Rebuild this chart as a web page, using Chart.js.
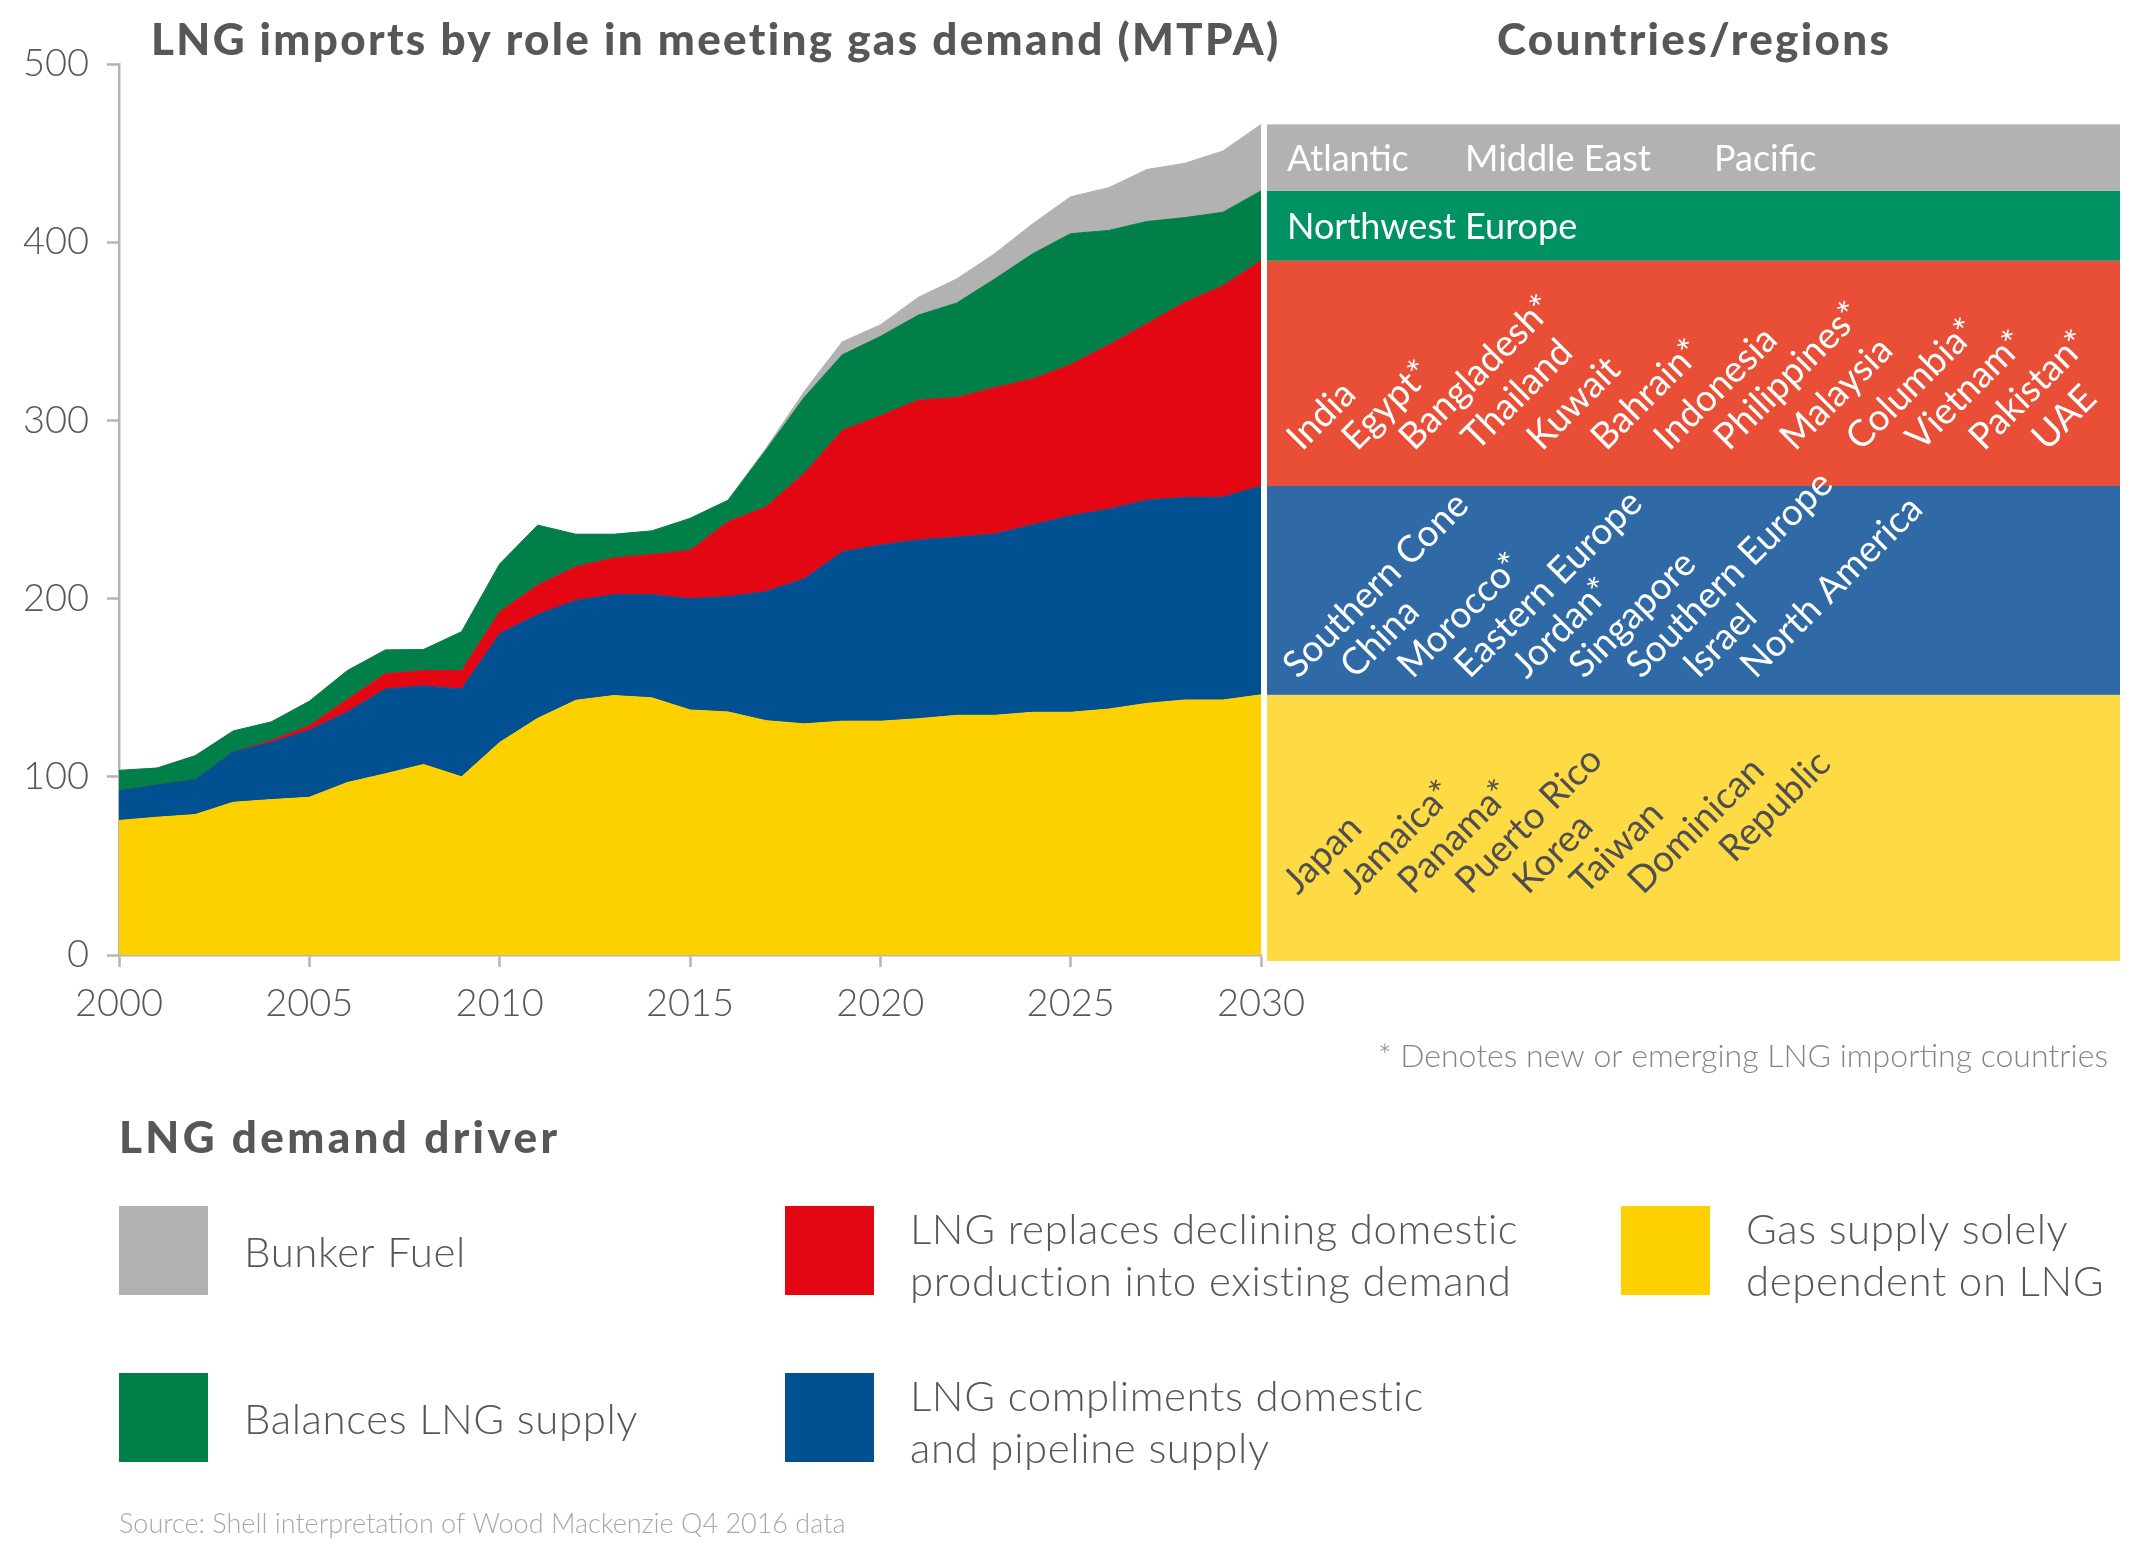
<!DOCTYPE html>
<html>
<head>
<meta charset="utf-8">
<title>LNG imports by role in meeting gas demand</title>
<script src="https://cdn.jsdelivr.net/npm/chart.js@4.4.1/dist/chart.umd.min.js"></script>
<style>
  html, body { margin: 0; padding: 0; background: #fff; }
  canvas { display: block; }
</style>
</head>
<body>
<canvas id="lng" width="2149" height="1543"></canvas>
<script>
// years on the x axis
const years = [2000, 2001, 2002, 2003, 2004, 2005, 2006, 2007, 2008, 2009,
  2010, 2011, 2012, 2013, 2014, 2015, 2016, 2017, 2018, 2019,
  2020, 2021, 2022, 2023, 2024, 2025, 2026, 2027, 2028, 2029, 2030];

// MTPA (bottom to top)
const dependentOnLng = [75.5, 77.3, 78.8, 85.7, 87.2, 88.5, 96.8, 101.7, 106.9, 100.0,
  119.3, 132.8, 142.9, 145.6, 144.3, 137.5, 136.4, 131.5, 129.7, 131.2,
  131.2, 132.6, 134.5, 134.5, 136.2, 136.2, 138.0, 141.2, 143.1, 143.1, 146.0];
const complementsDomestic = [16.6, 18.0, 19.5, 28.2, 32.1, 37.7, 39.6, 47.6, 44.1, 49.3,
  61.0, 58.3, 56.1, 56.6, 57.9, 62.5, 64.7, 72.5, 81.4, 95.0,
  98.9, 100.3, 100.0, 101.7, 105.2, 110.3, 112.2, 114.0, 113.6, 113.8, 117.2];
const replacesDecline = [0, 0, 0, 0, 1.1, 2.5, 7.1, 8.6, 8.6, 10.3,
  12.3, 16.5, 18.9, 20.6, 22.6, 27.0, 42.1, 47.5, 59.3, 68.2,
  72.5, 78.5, 78.4, 82.2, 81.9, 84.9, 92.1, 99.1, 109.6, 118.7, 126.4];
const balancesSupply = [11.5, 9.6, 13.5, 11.8, 10.4, 13.7, 16.1, 13.3, 11.8, 21.8,
  26.8, 33.6, 18.2, 13.3, 13.2, 18.0, 12.0, 32.0, 42.5, 42.4,
  44.5, 47.7, 52.9, 60.9, 70.2, 73.4, 64.3, 57.3, 47.5, 41.2, 39.2];
const bunkerFuel = [0, 0, 0, 0, 0, 0, 0, 0, 0, 0,
  0, 0, 0, 0, 0, 0, 0, 1.0, 3.3, 7.3,
  6.5, 10.0, 13.5, 14.2, 16.8, 20.7, 24.0, 29.2, 30.5, 34.4, 37.3];

const yTicks = [0, 100, 200, 300, 400, 500];
const xTicks = [2000, 2005, 2010, 2015, 2020, 2025, 2030];

// country/region lists shown in the right hand panel
const bunkerRegions = ["Atlantic", "Middle East", "Pacific"];
const balancingRegions = ["Northwest Europe"];
const replacingCountries = ["India", "Egypt*", "Bangladesh*", "Thailand", "Kuwait", "Bahrain*",
  "Indonesia", "Philippines*", "Malaysia", "Columbia*", "Vietnam*", "Pakistan*", "UAE"];
const complementCountries = ["Southern Cone", "China", "Morocco*", "Eastern Europe", "Jordan*",
  "Singapore", "Southern Europe", "Israel", "North America"];
const dependentCountries = ["Japan", "Jamaica*", "Panama*", "Puerto Rico", "Korea", "Taiwan",
  "Dominican\nRepublic"];

const FONT = "Lato, 'Open Sans', sans-serif";
const TEXT = "#575757";

function pts(vals) {
  return years.map((yr, i) => ({ x: yr, y: vals[i] }));
}

const series = [
  { label: "Gas supply solely dependent on LNG", data: dependentOnLng, color: "#fdd000", panel: "#fedb45",
    lines: ["Gas supply solely", "dependent on LNG"] },
  { label: "LNG compliments domestic and pipeline supply", data: complementsDomestic, color: "#015092", panel: "#2f69a6",
    lines: ["LNG compliments domestic", "and pipeline supply"] },
  { label: "LNG replaces declining domestic production into existing demand", data: replacesDecline, color: "#e20713", panel: "#e84f36",
    lines: ["LNG replaces declining domestic", "production into existing demand"] },
  { label: "Balances LNG supply", data: balancesSupply, color: "#017f49", panel: "#019264",
    lines: ["Balances LNG supply"] },
  { label: "Bunker Fuel", data: bunkerFuel, color: "#b2b2b2", panel: "#b2b2b2",
    lines: ["Bunker Fuel"] }
];

// legend grid: dataset index, column, row
const legendSlots = [
  { ds: 4, col: 0, row: 0 }, { ds: 2, col: 1, row: 0 }, { ds: 0, col: 2, row: 0 },
  { ds: 3, col: 0, row: 1 }, { ds: 1, col: 1, row: 1 }
];

// hand placed offsets of the slanted names in the red band
const replaceOffsets = [0, 55, 112, 175, 240, 304, 367, 427, 493, 559, 619, 682, 745];

function rotText(ctx, txt, x, y) {
  ctx.save();
  ctx.translate(x, y);
  ctx.rotate(-Math.PI / 4);
  const parts = txt.split("\n");
  ctx.fillText(parts[0], 0, 0);
  if (parts[1]) ctx.fillText(parts[1], 87, 42);
  ctx.restore();
}

// bold headings are set in a wider face in the original, so spread the letters to the same width
function wideText(ctx, txt, x, y, width) {
  ctx.letterSpacing = "0px";
  const w = ctx.measureText(txt).width;
  const sp = Math.max(0, (width - w) / (txt.length - 1));
  ctx.letterSpacing = sp.toFixed(2) + "px";
  ctx.fillText(txt, x, y);
  ctx.letterSpacing = "0px";
}

const decor = {
  id: "decor",
  afterDraw(chart) {
    const ctx = chart.ctx;
    const ys = chart.scales.y;
    const area = chart.chartArea;
    const last = years.length - 1;

    ctx.save();
    ctx.textAlign = "left";
    ctx.textBaseline = "alphabetic";

    // headings
    ctx.fillStyle = TEXT;
    ctx.font = "900 44px " + FONT;
    wideText(ctx, "LNG imports by role in meeting gas demand (MTPA)", 151, 55, 1128);
    wideText(ctx, "Countries/regions", 1497, 55, 392);

    // right panel: bands continue the 2030 stack
    const left = area.right + 6, right = 2120;
    let cum = 0;
    const edges = [ys.getPixelForValue(0) + 6];
    series.forEach(s => {
      cum += s.data[last];
      edges.push(ys.getPixelForValue(cum));
    });
    series.forEach((s, i) => {
      ctx.fillStyle = s.panel;
      ctx.fillRect(left, edges[i + 1], right - left, edges[i] - edges[i + 1]);
    });

    ctx.font = "400 36px " + FONT;
    ctx.fillStyle = "#ffffff";
    const gMid = (edges[4] + edges[5]) / 2;
    const bunkerX = [0, 178, 427];
    bunkerRegions.forEach((r, i) => ctx.fillText(r, left + 20 + bunkerX[i], gMid + 13));
    const nMid = (edges[3] + edges[4]) / 2;
    balancingRegions.forEach(r => ctx.fillText(r, left + 20, nMid + 13));

    ctx.font = "400 37px " + FONT;
    replacingCountries.forEach((c, i) => rotText(ctx, c, left + 35 + replaceOffsets[i], edges[2] - 34));
    complementCountries.forEach((c, i) => rotText(ctx, c, left + 31 + i * 57.2, edges[1] - 15));
    ctx.fillStyle = "#4f4f4f";
    dependentCountries.forEach((c, i) => rotText(ctx, c, left + 31 + i * 57.5, edges[1] + 201));

    // footnote
    ctx.fillStyle = "#858585";
    ctx.font = "300 32px " + FONT;
    ctx.textAlign = "right";
    ctx.fillText("* Denotes new or emerging LNG importing countries", 2108, 1067);

    // legend
    ctx.textAlign = "left";
    ctx.fillStyle = TEXT;
    ctx.font = "900 44px " + FONT;
    wideText(ctx, "LNG demand driver", 119, 1153, 438);
    const colX = [119, 785, 1621], rowY = [1206, 1373], sw = 89;
    ctx.font = "300 42px " + FONT;
    ctx.textBaseline = "middle";
    legendSlots.forEach(sl => {
      const s = series[sl.ds];
      const x = colX[sl.col], y = rowY[sl.row];
      ctx.fillStyle = s.color;
      ctx.fillRect(x, y, sw, sw);
      ctx.fillStyle = TEXT;
      const lh = 52, n = s.lines.length;
      const shift = n > 1 ? 6 : 3;
      ctx.letterSpacing = "0.6px";
      s.lines.forEach((ln, k) => {
        ctx.fillText(ln, x + 125, y + sw / 2 + shift + (k - (n - 1) / 2) * lh);
      });
      ctx.letterSpacing = "0px";
    });

    // source
    ctx.fillStyle = "#a8a8a8";
    ctx.font = "300 27px " + FONT;
    ctx.fillText("Source: Shell interpretation of Wood Mackenzie Q4 2016 data", 119, 1524);
    ctx.restore();
  }
};

new Chart(document.getElementById("lng"), {
  type: "line",
  data: {
    datasets: series.map((s, i) => ({
      label: s.label,
      data: pts(s.data),
      backgroundColor: s.color,
      borderColor: s.color,
      borderWidth: 1,
      pointRadius: 0,
      tension: 0,
      fill: i === 0 ? "origin" : "-1"
    }))
  },
  options: {
    responsive: false,
    animation: false,
    devicePixelRatio: 1,
    layout: { padding: { left: 0, top: 64, right: 2149 - 1261, bottom: 1543 - 955 - 80 } },
    plugins: { legend: { display: false }, tooltip: { enabled: false } },
    scales: {
      x: {
        type: "linear",
        min: 2000,
        max: 2030,
        afterBuildTicks: sc => { sc.ticks = xTicks.map(v => ({ value: v })); },
        afterFit: sc => { sc.height = 80; },
        ticks: {
          color: TEXT,
          font: { family: FONT, size: 38, weight: "300" },
          padding: 14,
          maxRotation: 0,
          callback: v => String(v)
        },
        grid: { drawOnChartArea: false, drawTicks: true, tickLength: 12, tickWidth: 2.5, color: "#b5b5b5" },
        border: { display: true, color: "#b5b5b5", width: 2.5 }
      },
      y: {
        stacked: true,
        min: 0,
        max: 500,
        afterBuildTicks: sc => { sc.ticks = yTicks.map(v => ({ value: v })); },
        afterFit: sc => { sc.width = 119; },
        ticks: {
          color: TEXT,
          font: { family: FONT, size: 38, weight: "300" },
          padding: 18
        },
        grid: { drawOnChartArea: false, drawTicks: true, tickLength: 12, tickWidth: 2.5, color: "#b5b5b5" },
        border: { display: true, color: "#b5b5b5", width: 2.5 }
      }
    }
  },
  plugins: [decor]
});
</script>
</body>
</html>
